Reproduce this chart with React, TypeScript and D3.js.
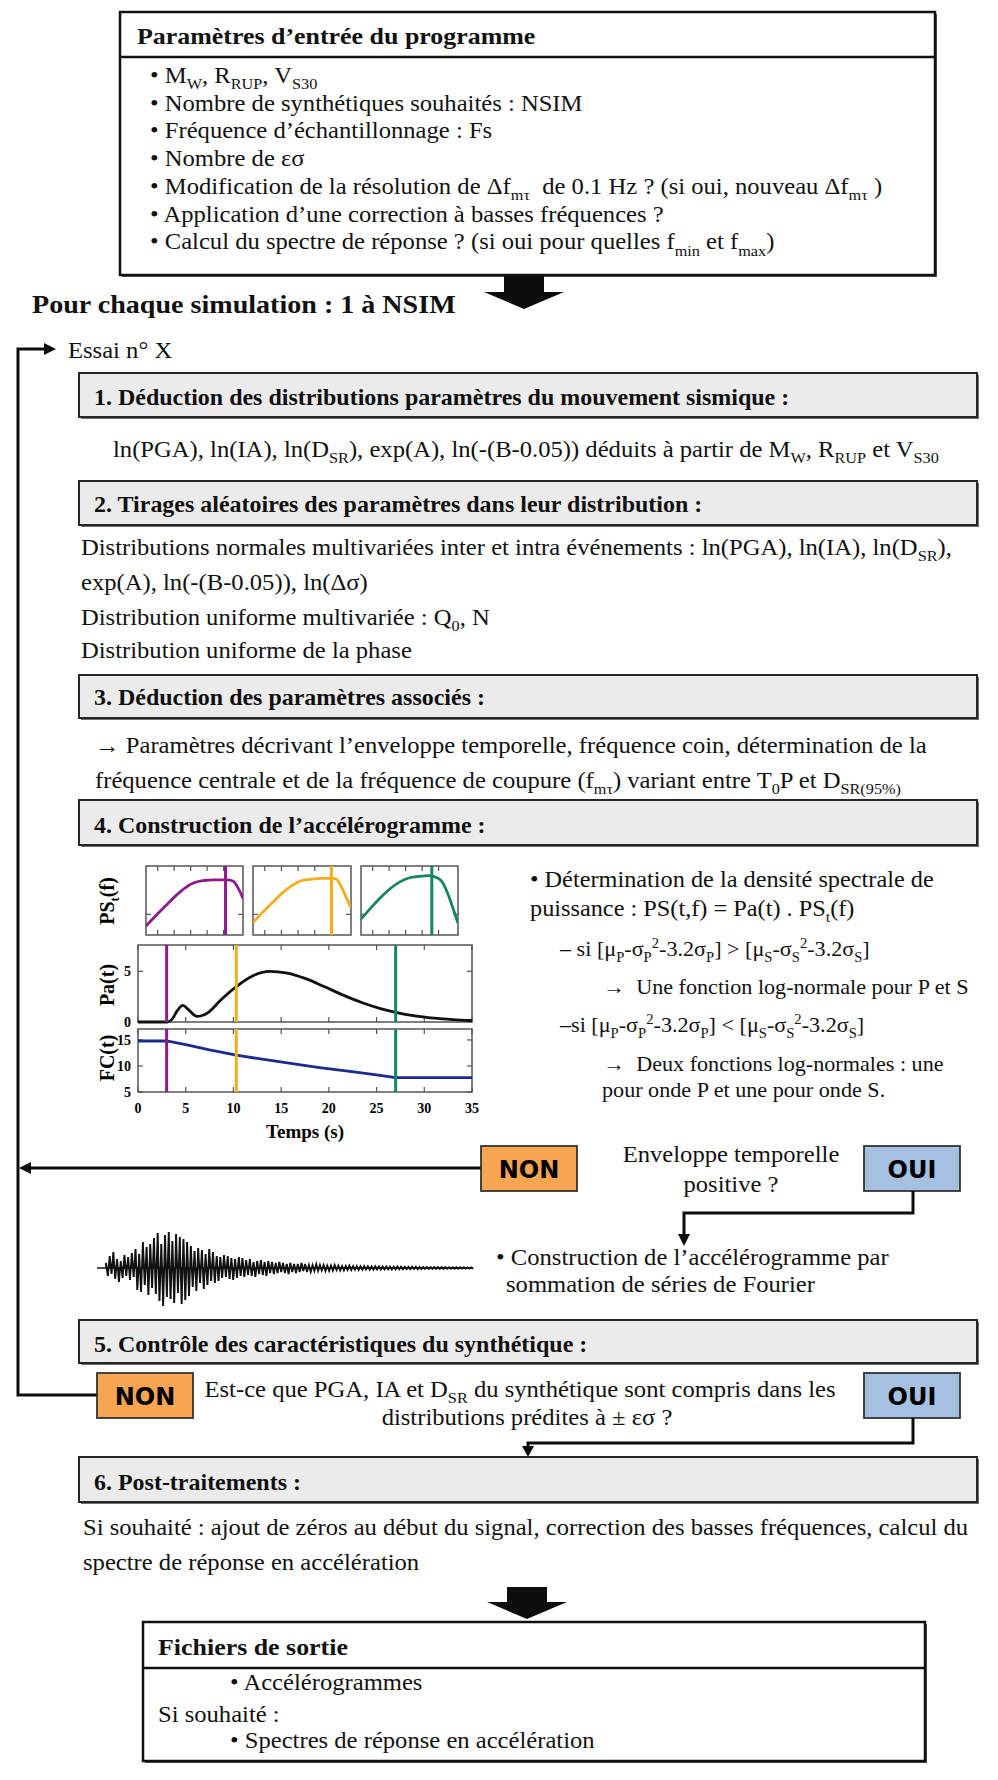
import React from 'react';
import * as d3 from 'd3';

const W = 998, H = 1780;
const SERIF = '"Liberation Serif", "Times New Roman", serif';
const SANS = '"DejaVu Sans", "Liberation Sans", sans-serif';
const SX = 1.08;
const BODY = 22.8;

// ---- Data for the section-4 mini plots ----
const paTime = [0, 3.1, 3.6, 4.1, 4.7, 5.3, 6.2, 7.3, 8.7, 10.3, 12, 13.8, 15.5, 17.5, 19.5, 21.5, 23.5, 25.5, 27, 29, 31, 33, 35];
const paValue = [0, 0, 0.3, 1.1, 1.65, 1.2, 0.55, 0.9, 2.2, 3.5, 4.55, 5.0, 4.85, 4.3, 3.5, 2.65, 1.9, 1.3, 0.95, 0.6, 0.38, 0.24, 0.15];
const fcTime = [0, 3, 5, 7.5, 10.3, 13, 16, 19, 22, 25, 27, 35];
const fcValue = [14.8, 14.8, 14.1, 13.1, 12.1, 11.3, 10.5, 9.7, 9.0, 8.3, 7.75, 7.75];
const markerTimes = [3, 10.3, 27];
const markerColors = ['#8e1b8c', '#f2ad1c', '#16875a'];
const timeTicks = [0, 5, 10, 15, 20, 25, 30, 35];
const paTicks = [0, 5];
const fcTicks = [5, 10, 15];
const psFreq = [0, 0.1, 0.2, 0.3, 0.4, 0.5, 0.6, 0.7, 0.8, 0.85, 0.9, 0.95, 1.0];
const psCurve1 = [0.13, 0.28, 0.42, 0.56, 0.68, 0.76, 0.79, 0.8, 0.8, 0.8, 0.78, 0.68, 0.53];
const psCurve2 = [0.18, 0.33, 0.47, 0.61, 0.72, 0.79, 0.81, 0.82, 0.82, 0.81, 0.7, 0.55, 0.39];
const psCurve3 = [0.23, 0.39, 0.54, 0.67, 0.77, 0.83, 0.85, 0.86, 0.82, 0.74, 0.58, 0.38, 0.17];
const psMarkers = [0.82, 0.8, 0.73];
const psTicks = [0.12, 0.29, 0.46, 0.63, 0.8];

// ---- Synthetic accelerogram (signed peak amplitudes) ----
const accel = [
  5, -8, 12, -6, 16, -11, 9, -14, 7, -10, 13, -8, 11, -12, 15, -9,
  19, -22, 14, -24, 26, -17, 21, -27, 24, -20,
  30, -26, 35, -33, 24, -38, 33, -29, 36, -31, 27, -35, 34, -25, 31, -36, 29, -32, 26, -28,
  22, -19, 17, -23, 20, -15, 18, -21, 14, -17, 19, -13, 16, -15, 12,
  -13, 11, -10, 13, -9, 12, -11, 10, -12, 9, -10, 11, -8, 10, -9,
  8, -7, 9, -8, 6, -9, 7, -6, 8, -7, 6, -8, 7, -5, 6,
  -6, 5, -5, 6, -4, 5, -5, 4, -6, 5, -4, 4, -5, 4, -4, 5, -3, 4, -4, 3,
  -4, 3, -3, 4, -3, 3, -2.5, 3, -3, 2.5, -3, 2.5, -2.5, 3, -2, 2.5, -2.5, 2, -2.5, 2,
  -2, 2.5, -2, 2, -1.8, 2, -2, 1.8, -1.8, 2, -1.6, 1.8, -1.8, 1.6, -1.6, 1.8, -1.5, 1.6, -1.6, 1.5, -1.5, 1.6, -1.4, 1.5, -1.5, 1.4, -1.4, 1.5, -1.3, 1.4,
  -1.3, 1.3, -1.2, 1.3, -1.2, 1.2, -1.1, 1.2, -1.2, 1.1, -1.1, 1.1, -1, 1.1, -1, 1, -1, 1, -0.9, 1, -0.9, 0.9, -0.9, 0.9, -0.8, 0.9, -0.8, 0.8, -0.8, 0.8, -0.8, 0.8, -0.7, 0.8, -0.7, 0.7, -0.7, 0.7, -0.7,
];

type Seg = string | { t: string; sub?: boolean; sup?: boolean };
const sub = (t: string) => ({ t, sub: true });
const sup = (t: string) => ({ t, sup: true });

function Rich({ x, y, segs, size = BODY, bold = false, anchor = 'start', sx = SX, family = SERIF, fill = '#111' }: any) {
  let cur = 0;
  const kids = (segs as Seg[]).map((s, i) => {
    const seg = typeof s === 'string' ? { t: s } : s;
    const small = seg.sub || seg.sup;
    const target = seg.sub ? size * 0.28 : seg.sup ? -size * 0.4 : 0;
    const dy = target - cur;
    cur = target;
    return (
      <tspan key={i} dy={dy} fontSize={small ? size * 0.66 : size}>
        {seg.t}
      </tspan>
    );
  });
  return (
    <text
      transform={`translate(${x},${y}) scale(${sx},1)`}
      textAnchor={anchor}
      fontFamily={family}
      fontSize={size}
      fontWeight={bold ? 'bold' : 'normal'}
      fill={fill}
      style={{ whiteSpace: 'pre' }}
    >
      {kids}
    </text>
  );
}

function SectionBox({ y0, y1, label, ty }: any) {
  return (
    <g>
      <rect x={81} y={y0 + 2} width={898} height={y1 - y0} fill="#6f6f6f" />
      <rect x={79} y={y0} width={898} height={y1 - y0} fill="#ebebeb" stroke="#262626" strokeWidth={2} />
      <Rich x={94} y={ty} segs={[label]} bold size={22.2} />
    </g>
  );
}

function BlockArrow({ cx, y0, shaftW, shaftH, headW, headH }: any) {
  const pts = [
    [cx - shaftW / 2, y0],
    [cx + shaftW / 2, y0],
    [cx + shaftW / 2, y0 + shaftH],
    [cx + headW / 2, y0 + shaftH],
    [cx, y0 + shaftH + headH],
    [cx - headW / 2, y0 + shaftH],
    [cx - shaftW / 2, y0 + shaftH],
  ];
  return <polygon points={pts.map((p) => p.join(',')).join(' ')} fill="#0d0d0d" />;
}

function Tag({ x, y, label, fill }: any) {
  return (
    <g>
      <rect x={x} y={y} width={96} height={45} fill={fill} stroke="#333" strokeWidth={1.8} />
      <text x={x + 48} y={y + 31.5} textAnchor="middle" fontFamily={SANS} fontWeight="900" fontSize={24} fill="#000">
        {label}
      </text>
    </g>
  );
}

function Plots() {
  const x = d3.scaleLinear().domain([0, 35]).range([138, 472]);
  const yPa = d3.scaleLinear().domain([0, 7.6]).range([1022, 945]);
  const yFc = d3.scaleLinear().domain([5, 17.1]).range([1092, 1029]);
  const paLine = d3
    .line<number>()
    .x((_, i) => x(paTime[i]))
    .y((d) => yPa(d))
    .curve(d3.curveMonotoneX);
  const fcLine = d3
    .line<number>()
    .x((_, i) => x(fcTime[i]))
    .y((d) => yFc(d));
  const psPanels = [
    { x0: 146, x1: 243, curve: psCurve1, m: psMarkers[0], c: markerColors[0] },
    { x0: 253, x1: 351, curve: psCurve2, m: psMarkers[1], c: markerColors[1] },
    { x0: 361, x1: 458, curve: psCurve3, m: psMarkers[2], c: markerColors[2] },
  ];
  const psY0 = 866, psY1 = 935;
  const tk = 5;
  const frame = '#555';
  return (
    <g>
      {psPanels.map((p, k) => {
        const px = d3.scaleLinear().domain([0, 1]).range([p.x0, p.x1]);
        const py = d3.scaleLinear().domain([0, 1]).range([psY1, psY0]);
        const ln = d3
          .line<number>()
          .x((_, i) => px(psFreq[i]))
          .y((d) => py(d))
          .curve(d3.curveMonotoneX);
        return (
          <g key={k}>
            <rect x={p.x0} y={psY0} width={p.x1 - p.x0} height={psY1 - psY0} fill="#fff" stroke={frame} strokeWidth={1.5} />
            {psTicks.map((t) => (
              <g key={t} stroke={frame} strokeWidth={1.2}>
                <line x1={px(t)} x2={px(t)} y1={psY0} y2={psY0 + tk} />
                <line x1={px(t)} x2={px(t)} y1={psY1} y2={psY1 - tk} />
              </g>
            ))}
            <line x1={p.x0} x2={p.x0 + tk} y1={py(0.3)} y2={py(0.3)} stroke={frame} strokeWidth={1.2} />
            <line x1={p.x1} x2={p.x1 - tk} y1={py(0.3)} y2={py(0.3)} stroke={frame} strokeWidth={1.2} />
            <clipPath id={`ps${k}`}>
              <rect x={p.x0} y={psY0} width={p.x1 - p.x0} height={psY1 - psY0} />
            </clipPath>
            <g clipPath={`url(#ps${k})`}>
              <path d={ln(p.curve) || ''} fill="none" stroke={p.c} strokeWidth={2.8} />
              <line x1={px(p.m)} x2={px(p.m)} y1={psY0} y2={psY1} stroke={p.c} strokeWidth={3} />
            </g>
          </g>
        );
      })}
      <rect x={138} y={945} width={334} height={77} fill="#fff" stroke={frame} strokeWidth={1.5} />
      <rect x={138} y={1029} width={334} height={63} fill="#fff" stroke={frame} strokeWidth={1.5} />
      {timeTicks.map((t) => (
        <g key={t} stroke={frame} strokeWidth={1.2}>
          <line x1={x(t)} x2={x(t)} y1={945} y2={945 + tk} />
          <line x1={x(t)} x2={x(t)} y1={1022} y2={1022 - tk} />
          <line x1={x(t)} x2={x(t)} y1={1029} y2={1029 + tk} />
          <line x1={x(t)} x2={x(t)} y1={1092} y2={1092 - tk} />
        </g>
      ))}
      {paTicks.map((v) => (
        <g key={v}>
          <line x1={138} x2={138 + tk} y1={yPa(v)} y2={yPa(v)} stroke={frame} strokeWidth={1.2} />
          <line x1={472} x2={472 - tk} y1={yPa(v)} y2={yPa(v)} stroke={frame} strokeWidth={1.2} />
          <text x={131} y={yPa(v) + 5} textAnchor="end" fontFamily={SERIF} fontWeight="bold" fontSize={14}>
            {v}
          </text>
        </g>
      ))}
      {fcTicks.map((v) => (
        <g key={v}>
          <line x1={138} x2={138 + tk} y1={yFc(v)} y2={yFc(v)} stroke={frame} strokeWidth={1.2} />
          <line x1={472} x2={472 - tk} y1={yFc(v)} y2={yFc(v)} stroke={frame} strokeWidth={1.2} />
          <text x={131} y={yFc(v) + 5} textAnchor="end" fontFamily={SERIF} fontWeight="bold" fontSize={14}>
            {v}
          </text>
        </g>
      ))}
      {timeTicks.map((t) => (
        <text key={t} x={x(t)} y={1113} textAnchor="middle" fontFamily={SERIF} fontWeight="bold" fontSize={14}>
          {t}
        </text>
      ))}
      <path d={paLine(paValue) || ''} fill="none" stroke="#111" strokeWidth={2.8} />
      <path d={fcLine(fcValue) || ''} fill="none" stroke="#1c2a8f" strokeWidth={2.8} />
      {markerTimes.map((t, i) => (
        <g key={t} stroke={markerColors[i]} strokeWidth={3}>
          <line x1={x(t)} x2={x(t)} y1={945} y2={1022} />
          <line x1={x(t)} x2={x(t)} y1={1029} y2={1092} />
        </g>
      ))}
      <text transform="translate(114,901) rotate(-90)" textAnchor="middle" fontFamily={SERIF} fontWeight="bold" fontSize={20}>
        PS<tspan dy={5} fontSize={13}>t</tspan>
        <tspan dy={-5}>(f)</tspan>
      </text>
      <text transform="translate(114,985) rotate(-90)" textAnchor="middle" fontFamily={SERIF} fontWeight="bold" fontSize={20}>
        Pa(t)
      </text>
      <text transform="translate(114,1058) rotate(-90)" textAnchor="middle" fontFamily={SERIF} fontWeight="bold" fontSize={20}>
        FC(t)
      </text>
      <text x={305} y={1138} textAnchor="middle" fontFamily={SERIF} fontWeight="bold" fontSize={19}>
        Temps (s)
      </text>
    </g>
  );
}

function Seismogram() {
  const x = d3.scaleLinear().domain([0, accel.length - 1]).range([106, 473]);
  const y = d3.scaleLinear().domain([-40, 40]).range([1308, 1228]);
  const ln = d3
    .line<number>()
    .x((_, i) => x(i))
    .y((d) => y(d));
  return (
    <g>
      <line x1={97} x2={473} y1={y(0)} y2={y(0)} stroke="#111" strokeWidth={1.3} />
      {accel.map((v, i) => (
        <line key={i} x1={x(i)} x2={x(i)} y1={y(0)} y2={y(v)} stroke="#111" strokeWidth={1.3} />
      ))}
      <path d={ln(accel) || ''} fill="none" stroke="#111" strokeWidth={1.8} strokeLinejoin="miter" />
    </g>
  );
}

export default function App() {
  const bodyLines: Seg[][] = [
    ['• M', sub('W'), ', R', sub('RUP'), ', V', sub('S30')],
    ['• Nombre de synthétiques souhaités : NSIM'],
    ['• Fréquence d’échantillonnage : Fs'],
    ['• Nombre de εσ'],
    ['• Modification de la résolution de Δf', sub('mτ'), '  de 0.1 Hz ? (si oui, nouveau Δf', sub('mτ'), ' )'],
    ['• Application d’une correction à basses fréquences ?'],
    ['• Calcul du spectre de réponse ? (si oui pour quelles f', sub('min'), ' et f', sub('max'), ')'],
  ];
  const lw = 3;
  const SUBL = 20.5;
  const RX = 530;
  return (
    <svg width={W} height={H} viewBox={`0 0 ${W} ${H}`} style={{ position: 'absolute', left: 0, top: 0, background: '#fff' }}>
      <rect width={W} height={H} fill="#fff" />
      {/* Top input box */}
      <rect x={122} y={14} width={815} height={263} fill="#555" />
      <rect x={120} y={12} width={815} height={263} fill="#fff" stroke="#111" strokeWidth={2.5} />
      <line x1={120} x2={935} y1={57} y2={57} stroke="#111" strokeWidth={2.5} />
      <Rich x={137} y={44} segs={['Paramètres d’entrée du programme']} bold size={24} />
      {bodyLines.map((segs, i) => (
        <Rich key={i} x={150} y={83 + i * 27.7} segs={segs} />
      ))}
      <BlockArrow cx={524} y0={276} shaftW={40} shaftH={16} headW={80} headH={17} />
      <Rich x={32} y={313} segs={['Pour chaque simulation : 1 à NSIM']} bold size={26} />

      {/* Loop */}
      <polyline points="97,1395 18,1395 18,349 46,349" fill="none" stroke="#0d0d0d" strokeWidth={lw} />
      <polygon points="44,343 56,349 44,355" fill="#0d0d0d" />
      <Rich x={68} y={358} segs={['Essai n° X']} />

      <SectionBox y0={373} y1={417} ty={405} label="1. Déduction des distributions paramètres du mouvement sismique :" />
      <Rich x={113} y={457} segs={['ln(PGA), ln(IA), ln(D', sub('SR'), '), exp(A), ln(-(B-0.05)) déduits à partir de M', sub('W'), ', R', sub('RUP'), ' et V', sub('S30')]} />

      <SectionBox y0={481} y1={525} ty={512} label="2. Tirages aléatoires des paramètres dans leur distribution :" />
      <Rich x={81} y={555} segs={['Distributions normales multivariées inter et intra événements : ln(PGA), ln(IA), ln(D', sub('SR'), '),']} />
      <Rich x={81} y={590} segs={['exp(A), ln(-(B-0.05)), ln(Δσ)']} />
      <Rich x={81} y={625} segs={['Distribution uniforme multivariée : Q', sub('0'), ', N']} />
      <Rich x={81} y={658} segs={['Distribution uniforme de la phase']} />

      <SectionBox y0={675} y1={718} ty={705} label="3. Déduction des paramètres associés :" />
      <Rich x={95} y={753} segs={['→ Paramètres décrivant l’enveloppe temporelle, fréquence coin, détermination de la']} />
      <Rich x={95} y={788} segs={['fréquence centrale et de la fréquence de coupure (f', sub('mτ'), ') variant entre T', sub('0'), 'P et D', sub('SR(95%)')]} />

      <SectionBox y0={800} y1={845} ty={833} label="4. Construction de l’accélérogramme :" />
      <Plots />
      <Rich x={RX} y={887} size={22.5} segs={['• Détermination de la densité spectrale de']} />
      <Rich x={RX} y={916} size={22.5} segs={['puissance : PS(t,f) = Pa(t) . PS', sub('t'), '(f)']} />
      <Rich x={RX + 30} y={956} size={SUBL} segs={['– si [μ', sub('P'), '-σ', sub('P'), sup('2'), '-3.2σ', sub('P'), '] > [μ', sub('S'), '-σ', sub('S'), sup('2'), '-3.2σ', sub('S'), ']']} />
      <Rich x={RX + 73} y={994} size={SUBL} segs={['→  Une fonction log-normale pour P et S']} />
      <Rich x={RX + 30} y={1032} size={SUBL} segs={['–si [μ', sub('P'), '-σ', sub('P'), sup('2'), '-3.2σ', sub('P'), '] < [μ', sub('S'), '-σ', sub('S'), sup('2'), '-3.2σ', sub('S'), ']']} />
      <Rich x={RX + 73} y={1071} size={SUBL} segs={['→  Deux fonctions log-normales : une']} />
      <Rich x={RX + 72} y={1097} size={SUBL} segs={['pour onde P et une pour onde S.']} />

      {/* Envelope decision */}
      <line x1={481} x2={28} y1={1168} y2={1168} stroke="#0d0d0d" strokeWidth={lw} />
      <polygon points="31,1162 19,1168 31,1174" fill="#0d0d0d" />
      <Tag x={481} y={1146} label="NON" fill="#f8a551" />
      <Rich x={731} y={1162} anchor="middle" segs={['Enveloppe temporelle']} />
      <Rich x={731} y={1192} anchor="middle" segs={['positive ?']} />
      <Tag x={864} y={1146} label="OUI" fill="#a5c0e0" />
      <polyline points="913,1191 913,1213 684,1213 684,1236" fill="none" stroke="#0d0d0d" strokeWidth={lw} />
      <polygon points="678,1234 684,1246 690,1234" fill="#0d0d0d" />

      <Seismogram />
      <Rich x={496} y={1265} segs={['• Construction de l’accélérogramme par']} />
      <Rich x={506} y={1292} segs={['sommation de séries de Fourier']} />

      <SectionBox y0={1320} y1={1363} ty={1352} label="5. Contrôle des caractéristiques du synthétique :" />
      <Tag x={97} y={1373} label="NON" fill="#f8a551" />
      <Rich x={520} y={1397} anchor="middle" segs={['Est-ce que PGA, IA et D', sub('SR'), ' du synthétique sont compris dans les']} />
      <Rich x={527} y={1425} anchor="middle" segs={['distributions prédites à ± εσ ?']} />
      <Tag x={864} y={1373} label="OUI" fill="#a5c0e0" />
      <polyline points="913,1418 913,1443 528,1443 528,1448" fill="none" stroke="#0d0d0d" strokeWidth={lw} />
      <polygon points="522,1446 528,1457 534,1446" fill="#0d0d0d" />

      <SectionBox y0={1457} y1={1502} ty={1490} label="6. Post-traitements :" />
      <Rich x={83} y={1535} segs={['Si souhaité : ajout de zéros au début du signal, correction des basses fréquences, calcul du']} />
      <Rich x={83} y={1570} segs={['spectre de réponse en accélération']} />

      <BlockArrow cx={527} y0={1587} shaftW={40} shaftH={15} headW={80} headH={17} />
      {/* Output box */}
      <rect x={145} y={1624} width={782} height={139} fill="#555" />
      <rect x={143} y={1622} width={782} height={139} fill="#fff" stroke="#111" strokeWidth={2.5} />
      <line x1={143} x2={925} y1={1668} y2={1668} stroke="#111" strokeWidth={2.5} />
      <Rich x={158} y={1655} segs={['Fichiers de sortie']} bold size={24} />
      <Rich x={230} y={1690} segs={['• Accélérogrammes']} />
      <Rich x={158} y={1722} segs={['Si souhaité :']} />
      <Rich x={230} y={1748} segs={['• Spectres de réponse en accélération']} />
    </svg>
  );
}
